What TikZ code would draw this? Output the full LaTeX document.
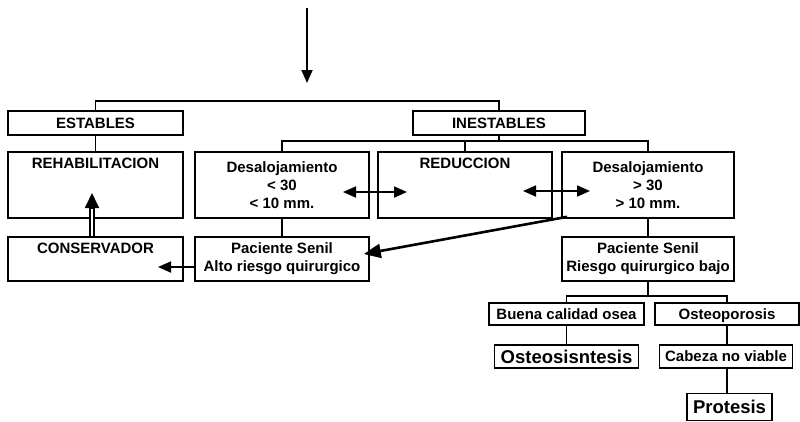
\documentclass[tikz,border=0pt]{standalone}
\usepackage{fontspec}
\setmainfont{Liberation Sans}
\usetikzlibrary{arrows.meta}

\begin{document}
\begin{tikzpicture}[x=1pt, y=-1pt,
    >={Triangle[length=13pt,width=11pt]},
    box/.style={rectangle, draw, line width=1.6pt, inner sep=0pt, align=center,
        font=\fontsize{15}{18}\selectfont\bfseries},
    linea/.style={text height=10.7pt, text depth=0pt},
    arriba/.style={text height=16pt, text depth=#1},
    big/.style={font=\fontsize{18.5}{20}\selectfont\bfseries, text height=13.2pt, text depth=0pt},
    link/.style={line width=1.8pt}]

    \useasboundingbox (0,0) rectangle (800,421);

    \node[box, linea, minimum width=175pt, minimum height=24pt] (estables) at (95.5,123) {ESTABLES};
    \node[box, linea, minimum width=172pt, minimum height=24pt] (inestables) at (499,123) {INESTABLES};
    \node[box, minimum width=175pt, minimum height=66pt, arriba=50pt] (rehab) at (95.5,185) {REHABILITACION};
    \node[box, minimum width=174pt, minimum height=66pt] (desl) at (282,185) {Desalojamiento\\< 30\\< 10 mm.};
    \node[box, minimum width=174pt, minimum height=66pt, arriba=50pt] (reduc) at (465,185) {REDUCCION};
    \node[box, minimum width=172pt, minimum height=66pt] (desr) at (648,185) {Desalojamiento\\> 30\\> 10 mm.};
    \node[box, minimum width=175pt, minimum height=44pt, arriba=28pt] (conserv) at (95.5,259) {CONSERVADOR};
    \node[box, minimum width=174pt, minimum height=44pt] (pacl) at (282,259) {Paciente Senil\\Alto riesgo quirurgico};
    \node[box, minimum width=172pt, minimum height=44pt] (pacr) at (648,259) {Paciente Senil\\Riesgo quirurgico bajo};
    \node[box, linea, minimum width=155pt, minimum height=22pt] (buena) at (566.5,314) {Buena calidad osea};
    \node[box, linea, minimum width=144pt, minimum height=22pt] (osteop) at (727,314) {Osteoporosis};
    \node[box, big, minimum width=144pt, minimum height=23pt] (osteos) at (566.5,356.5) {Osteosisntesis};
    \node[box, linea, minimum width=133pt, minimum height=23pt] (cabeza) at (726,356.5) {Cabeza no viable};
    \node[box, big, minimum width=85pt, minimum height=27pt] (protesis) at (729.5,407) {Protesis};

    \coordinate (entrada) at (307,8);
    \coordinate (llegada) at (307,83);
    \coordinate (ramal) at (0,101);
    \coordinate (ramal2) at (0,141);
    \coordinate (ramal3) at (0,296);
    \coordinate (i1) at (343,192);
    \coordinate (d1) at (407,192);
    \coordinate (i2) at (523,191);
    \coordinate (d2) at (590,191);
    \coordinate (retorno) at (158,267);
    \coordinate (subida) at (92,193);
    \coordinate (punta) at (92,208);

    \draw[->, link] (entrada) -- (llegada);
    \draw[link] (estables.north) -- (estables.north |- ramal) -- (inestables.north |- ramal) -- (inestables.north);
    \draw[link] (estables) -- (rehab);
    \draw[link] (inestables.south) -- (inestables.south |- ramal2);
    \draw[link] (desl.north) -- (desl.north |- ramal2) -- (desr.north |- ramal2) -- (desr.north);
    \draw[link] (reduc.north) -- (reduc.north |- ramal2);
    \draw[link] (desl) -- (pacl);
    \draw[link] (desr) -- (pacr);
    \draw[link] (pacr.south) -- (pacr.south |- ramal3);
    \draw[link] (buena.north) -- (buena.north |- ramal3) -- (osteop.north |- ramal3) -- (osteop.north);
    \draw[link] (buena) -- (osteos);
    \draw[link] (osteop.south) -- (osteop.south |- cabeza.north);
    \draw[link] (osteop.south |- cabeza.south) -- (osteop.south |- protesis.north);

    \draw[<->, link] (i1) -- (d1);
    \draw[<->, link] (i2) -- (d2);
    \draw[->, link] (pacl.west |- retorno) -- (retorno);
    \draw[double, line width=1.4pt, double distance=2.4pt] (subida |- conserv.north) -- (punta);
    \draw[-{Triangle[length=15pt,width=14pt]}, link] (punta) -- (subida);
    \draw[-{Triangle[length=17pt,width=14pt]}, line width=2.6pt] ([xshift=6pt, yshift=2pt]desr.south west) -- ([xshift=-6pt, yshift=5pt]pacl.east);
\end{tikzpicture}
\end{document}
